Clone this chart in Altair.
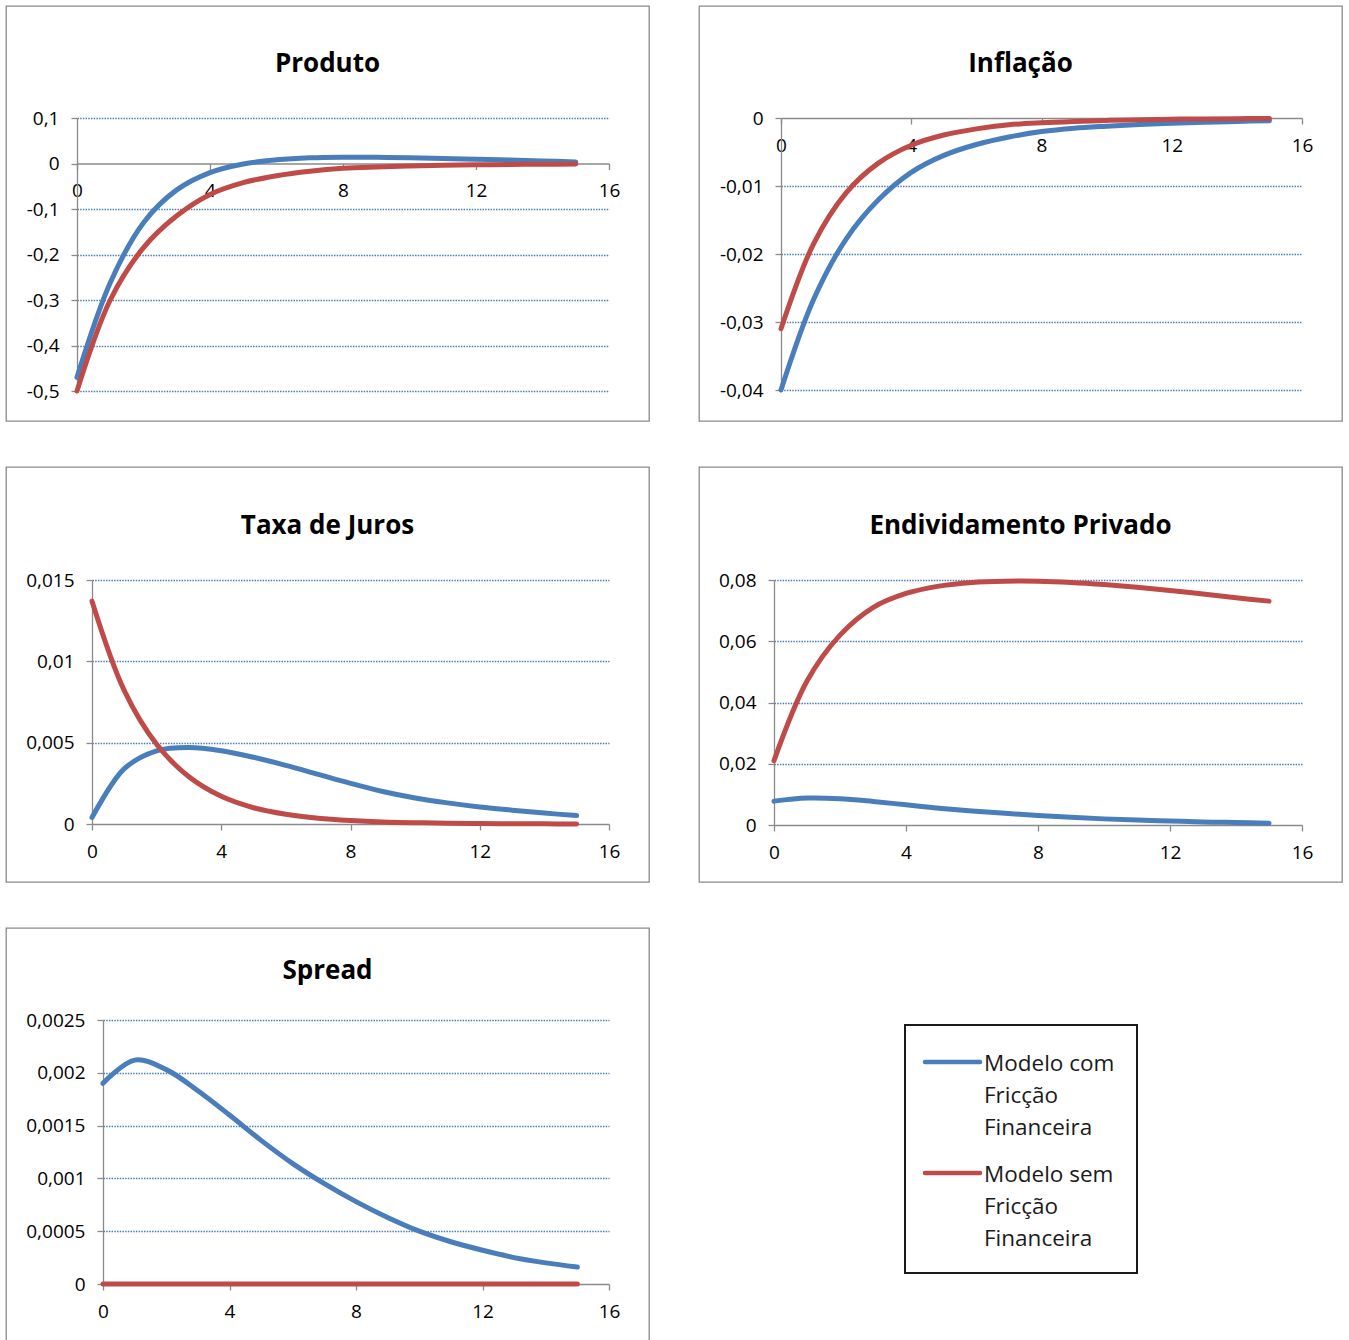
import altair as alt
import pandas as pd

# Impulse responses over 16 quarters (t = 0..15)
periodos = [0, 1, 2, 3, 4, 5, 6, 7, 8, 9, 10, 11, 12, 13, 14, 15]
modelos = ["Modelo com Fricção Financeira", "Modelo sem Fricção Financeira"]
legenda_textos = ["Modelo com\nFricção\nFinanceira", "Modelo sem\nFricção\nFinanceira"]
cores = ["#4A7EBB", "#BE4B48"]

produto_com = [-0.47, -0.262, -0.13, -0.058, -0.02, -0.001, 0.008, 0.0125,
               0.0138, 0.0135, 0.0125, 0.011, 0.0093, 0.0075, 0.0055, 0.0035]
produto_sem = [-0.5, -0.30, -0.185, -0.115, -0.068, -0.042, -0.027, -0.017,
               -0.0105, -0.0075, -0.0055, -0.004, -0.003, -0.0022, -0.0016, -0.0012]

inflacao_com = [-0.04, -0.0267, -0.0178, -0.012, -0.0080, -0.0055, -0.0039, -0.0028,
                -0.0020, -0.0015, -0.0012, -0.00095, -0.00077, -0.00062, -0.0005, -0.0004]
inflacao_sem = [-0.031, -0.0185, -0.011, -0.0066, -0.0040, -0.0025, -0.0016, -0.0010,
                -0.0007, -0.0005, -0.00035, -0.00025, -0.00018, -0.00013, -0.0001, -0.00008]

juros_com = [0.0004, 0.0034, 0.0045, 0.0047, 0.0045, 0.0041, 0.0036, 0.00305,
             0.0025, 0.0020, 0.0016, 0.0013, 0.00105, 0.00085, 0.00067, 0.00052]
juros_sem = [0.0137, 0.0082, 0.0049, 0.0029, 0.0017, 0.0010, 0.0006, 0.00036,
             0.00022, 0.00013, 0.00008, 0.00005, 0.00003, 0.00002, 0.00001, 0.0]

endiv_com = [0.0078, 0.0088, 0.0086, 0.0077, 0.0066, 0.0055, 0.0046, 0.0038,
             0.0031, 0.0025, 0.0020, 0.0016, 0.0013, 0.0010, 0.0008, 0.0006]
endiv_sem = [0.021, 0.047, 0.062, 0.071, 0.0756, 0.078, 0.0792, 0.0796,
             0.0796, 0.0792, 0.0785, 0.0776, 0.0766, 0.0754, 0.0742, 0.0731]

spread_com = [0.0019, 0.00212, 0.00203, 0.00183, 0.0016, 0.00136, 0.00114, 0.00095,
              0.00078, 0.00063, 0.0005, 0.0004, 0.00032, 0.00025, 0.0002, 0.00016]
spread_sem = [0.0, 0.0, 0.0, 0.0, 0.0, 0.0, 0.0, 0.0,
              0.0, 0.0, 0.0, 0.0, 0.0, 0.0, 0.0, 0.0]

ticks_x = [0, 4, 8, 12, 16]
ticks_produto = [-0.5, -0.4, -0.3, -0.2, -0.1, 0, 0.1]
ticks_inflacao = [-0.04, -0.03, -0.02, -0.01, 0]
ticks_juros = [0, 0.005, 0.01, 0.015]
ticks_endiv = [0, 0.02, 0.04, 0.06, 0.08]
ticks_spread = [0, 0.0005, 0.001, 0.0015, 0.002, 0.0025]

LARGURA = 643
ALTURA = 415
FONTE = "Open Sans"
CINZA = "#8A8A8A"


def painel(titulo, serie_com, serie_sem, dominio_y, ticks_y, faixa_x, faixa_y, titulo_y, extras=()):
    dados = pd.DataFrame({
        "periodo": periodos + periodos,
        "valor": serie_com + serie_sem,
        "modelo": [modelos[0]] * len(periodos) + [modelos[1]] * len(periodos),
    })
    # pixel row where y = 0, so the horizontal axis crosses there
    y_zero = faixa_y[0] + (0 - dominio_y[0]) / (dominio_y[1] - dominio_y[0]) * (faixa_y[1] - faixa_y[0])

    eixo_comum = dict(
        domainColor=CINZA, domainWidth=1.3, tickColor=CINZA, tickWidth=1.3, tickSize=6,
        labelFont=FONTE, labelFontSize=19, labelColor="#000000", labelPadding=12,
        labelOverlap=False, labelFlush=False,
    )
    linhas = alt.Chart(dados).mark_line(
        strokeWidth=5, strokeCap="round", strokeJoin="round", interpolate="catmull-rom"
    ).encode(
        x=alt.X("periodo:Q",
                scale=alt.Scale(domain=[0, 16], range=faixa_x, nice=False, zero=False),
                axis=alt.Axis(values=ticks_x, grid=False, title=None,
                              offset=y_zero - ALTURA, **eixo_comum)),
        y=alt.Y("valor:Q",
                scale=alt.Scale(domain=dominio_y, range=faixa_y, nice=False, zero=False),
                axis=alt.Axis(values=ticks_y, grid=True, title=None,
                              offset=-faixa_x[0],
                              gridColor="#4A7EBB", gridDash=[1.5, 1.2], gridWidth=1.3,
                              gridOpacity={"condition": {"test": "datum.value === 0", "value": 0}, "value": 1},
                              labelExpr="replace(toString(datum.value), '.', ',')",
                              **eixo_comum)),
        color=alt.Color("modelo:N", scale=alt.Scale(domain=modelos, range=cores), legend=None),
    )
    rotulo = alt.Chart(pd.DataFrame({"titulo": [titulo]})).mark_text(
        font=FONTE, fontSize=26, fontWeight="bold", color="#000000", baseline="middle", align="center"
    ).encode(text="titulo:N", x=alt.value(LARGURA / 2), y=alt.value(titulo_y))
    return alt.layer(linhas, rotulo, *extras).properties(width=LARGURA, height=ALTURA)


# Legend box drawn next to the last panel
moldura = alt.Chart(pd.DataFrame({"caixa": [1]})).mark_rect(
    fill="white", stroke="#1A1A1A", strokeWidth=2
).encode(x=alt.value(899), x2=alt.value(1131), y=alt.value(97), y2=alt.value(345))

itens_legenda = []
for i, (texto, cor) in enumerate(zip(legenda_textos, cores)):
    item = pd.DataFrame({"rotulo": [texto]})
    simbolo = alt.Chart(item).mark_rule(color=cor, strokeWidth=4.5, strokeCap="round").encode(
        x=alt.value(919), x2=alt.value(974), y=alt.value(134 + 111 * i)
    )
    escrita = alt.Chart(item).mark_text(
        font=FONTE, fontSize=22.5, color="#1A1A1A", align="left", baseline="alphabetic",
        lineBreak="\n", lineHeight=32
    ).encode(text="rotulo:N", x=alt.value(978), y=alt.value(143 + 111 * i))
    itens_legenda += [simbolo, escrita]

p_produto = painel("Produto", produto_com, produto_sem, [-0.5, 0.1], ticks_produto,
                   [71, 603], [385, 112], 58)
p_inflacao = painel("Inflação", inflacao_com, inflacao_sem, [-0.04, 0], ticks_inflacao,
                    [82, 603], [384, 112], 58)
p_juros = painel("Taxa de Juros", juros_com, juros_sem, [0, 0.015], ticks_juros,
                 [86, 603], [357, 113], 59)
p_endiv = painel("Endividamento Privado", endiv_com, endiv_sem, [0, 0.08], ticks_endiv,
                 [75, 603], [358, 113], 59)
p_spread = painel("Spread", spread_com, spread_sem, [0, 0.0025], ticks_spread,
                  [97, 603], [356, 92], 43, extras=[moldura] + itens_legenda)

chart = alt.vconcat(
    alt.hconcat(p_produto, p_inflacao, spacing=48),
    alt.hconcat(p_juros, p_endiv, spacing=48),
    p_spread,
    spacing=44,
).properties(
    padding={"left": 5, "top": 5, "right": 5, "bottom": 5}
).configure_view(
    stroke=CINZA, strokeWidth=1.3
)

chart.save("out.html", embed_options={"renderer": "svg", "actions": False})
